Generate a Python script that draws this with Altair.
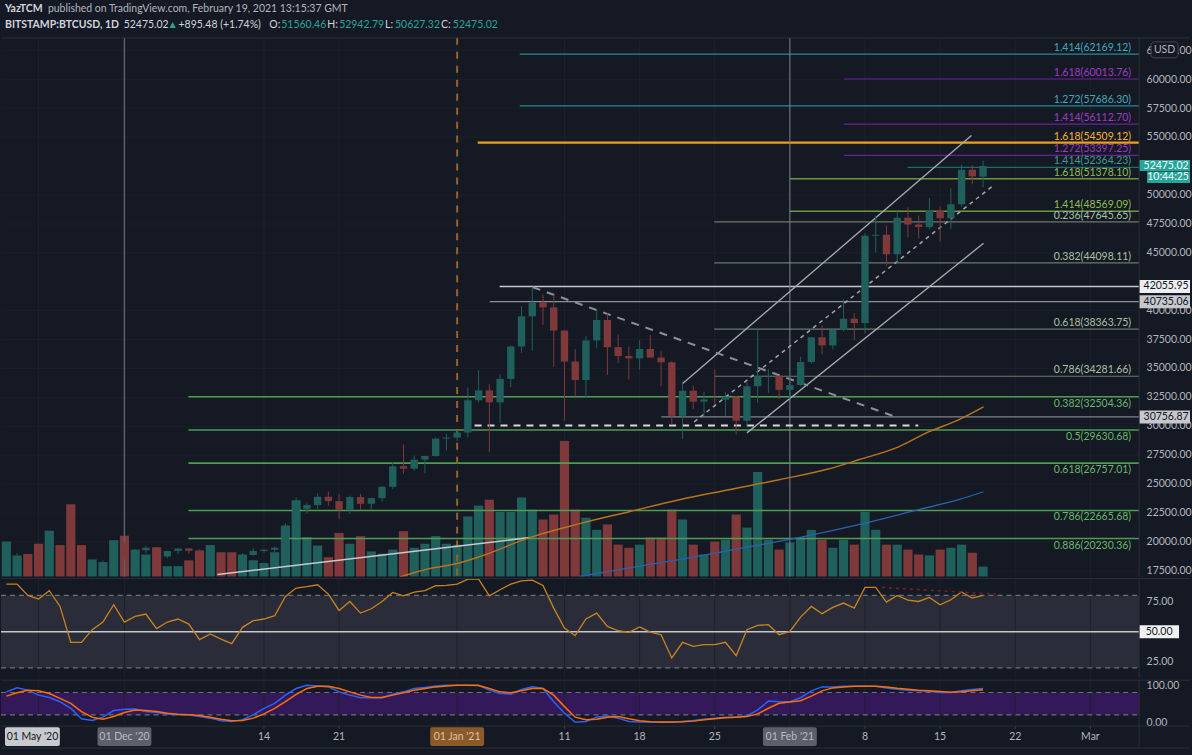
import altair as alt
import pandas as pd
import numpy as np

# ============================ DATA ============================
first_day, last_day = "2020-11-20", "2021-02-19"

opens = [
    17810, 18680, 18700, 18420, 18370, 19160, 18730, 17150, 17140, 17720, 18190,
    19700, 18780, 19220, 19440, 18680, 19150, 19360, 19170, 18320, 18550, 18250,
    18030, 18800, 19160, 19270, 19440, 21360, 22800, 23130, 23850, 23470, 22720,
    23820, 23240, 23730, 24710, 26490, 26280, 27060, 27380, 28880,
    28970, 29410, 32200, 33060, 32020, 34050, 36860, 39470, 40670, 40240, 38240,
    35550, 33950, 37380, 39150, 36800, 36030, 35830, 36640, 35900, 35490, 30850,
    33030, 32080, 32270, 32250, 32520, 30430, 33420, 34300, 34320,
    33100, 33520, 35510, 37650, 36950, 38290, 39260, 38880, 46450, 46530, 44850,
    48000, 47410, 47210, 48620, 47950, 49170, 52150, 51560.46,
]
highs = [
    18810, 18970, 18760, 18770, 19420, 19480, 18920, 17460, 17880, 18340, 19860,
    19900, 19330, 19570, 19520, 19180, 19420, 19410, 19300, 18640, 18560, 18280,
    18950, 19410, 19340, 19550, 21550, 23770, 23270, 24150, 24300, 24100, 23950,
    24100, 23770, 24780, 26860, 28380, 27410, 27400, 28990, 29300,
    29600, 33300, 34810, 33600, 34440, 36950, 40360, 41950, 41370, 41350, 38260,
    36620, 37760, 40050, 39740, 37900, 36850, 37400, 37850, 36430, 35590, 33830,
    33470, 32950, 34880, 32930, 32560, 33780, 38530, 34880, 34340,
    34700, 35980, 37660, 38720, 38320, 40950, 39740, 46650, 48170, 47330, 48630,
    48900, 48190, 49710, 49000, 50550, 52600, 52540, 52942.79,
]
lows = [
    17750, 18400, 17640, 18000, 18020, 18600, 16330, 16500, 16870, 17560, 18180,
    18330, 18340, 18930, 18580, 18520, 18880, 18920, 18220, 17650, 17920, 17580,
    18000, 18730, 19000, 19050, 19300, 21240, 22350, 22780, 23080, 21900, 22370,
    22700, 22700, 23430, 24500, 25850, 26100, 25880, 27330, 27870,
    28690, 29000, 32000, 27730, 30220, 33320, 36300, 36500, 38720, 35100, 30420,
    32530, 32450, 36700, 34400, 35400, 34000, 34850, 35890, 33420, 30070, 28850,
    31450, 30900, 31900, 30830, 29240, 29860, 31980, 32860, 32300,
    32300, 33420, 35370, 36180, 36590, 38190, 37410, 37990, 45000, 43800, 43980,
    46300, 46200, 47010, 45900, 47050, 48950, 50900, 50627.32,
]
closes = [
    18680, 18700, 18420, 18370, 19160, 18730, 17150, 17140, 17720, 18190, 19700,
    18780, 19220, 19440, 18680, 19150, 19360, 19170, 18320, 18550, 18250, 18030,
    18800, 19160, 19270, 19440, 21360, 22800, 23130, 23850, 23470, 22720, 23820,
    23240, 23730, 24710, 26490, 26280, 27060, 27380, 28880, 28970,
    29410, 32200, 33060, 32020, 34050, 36860, 39470, 40670, 40240, 38240, 35550,
    33950, 37380, 39150, 36800, 36030, 35830, 36640, 35900, 35490, 30850, 33030,
    32080, 32270, 32250, 32520, 30430, 33420, 34300, 34320, 33100,
    33520, 35510, 37650, 36950, 38290, 39260, 38880, 46450, 46530, 44850, 48000,
    47410, 47210, 48620, 47950, 49170, 52150, 51580, 52475.02,
]
volumes = [  # thousand BTC
    7.8, 4.7, 5.0, 7.3, 10.2, 7.0, 16.1, 7.0, 3.8, 3.2, 8.1,
    9.1, 6.0, 4.9, 6.5, 2.3, 2.3, 3.6, 5.8, 7.0, 5.4, 5.4, 4.9, 3.6, 3.0, 5.4,
    11.3, 17.0, 8.8, 6.9, 4.3, 9.7, 7.3, 9.0, 5.6, 5.1, 6.0, 10.1, 6.4, 7.3, 9.0, 7.3,
    7.1, 13.4, 15.8, 17.1, 14.4, 14.4, 17.6, 14.9, 12.7, 13.8, 30.2, 14.9, 13.1,
    10.4, 11.6, 7.1, 6.4, 7.1, 8.7, 8.7, 14.9, 12.7, 7.1, 4.9, 7.8, 8.2, 13.8,
    10.9, 23.3, 8.2, 6.0,
    7.6, 8.7, 10.4, 8.2, 6.4, 8.2, 7.1, 14.4, 10.4, 7.1, 7.1, 6.0, 4.9, 4.7, 6.0,
    6.4, 7.1, 5.3, 2.2,
]
rsi = [
    89.4, 89.4, 80.0, 77.0, 83.9, 70.9, 41.2, 41.2, 51.7, 58.0, 72.3,
    58.0, 62.7, 64.6, 52.5, 58.0, 60.5, 56.3, 43.4, 48.1, 43.9, 40.1, 53.6, 59.1,
    60.5, 63.2, 79.2, 86.1, 87.2, 88.8, 81.1, 67.6, 75.0, 65.4, 69.0, 75.0, 82.5,
    79.7, 82.8, 83.9, 88.0, 88.3,
    89.4, 93.5, 93.5, 79.7, 84.7, 89.4, 92.1, 92.7, 88.3, 69.5, 53.0, 46.7, 60.5,
    65.4, 54.4, 50.8, 49.4, 53.9, 49.7, 47.5, 28.3, 41.2, 37.9, 39.3, 39.3, 41.2,
    30.2, 51.7, 55.2, 55.8, 47.5,
    50.3, 62.1, 70.9, 64.9, 70.1, 73.7, 69.5, 86.6, 86.6, 74.5, 80.0, 76.1, 75.0,
    78.3, 72.3, 76.4, 82.8, 77.8, 80.0,
]
stoch_k = [
    81.7, 92.3, 86.2, 72.9, 66.7, 55.3, 37.6, 9.4, 5.0, 13.8, 31.5,
    35.0, 35.9, 28.8, 26.2, 22.6, 20.0, 20.0, 15.6, 11.2, 4.1, 2.4, 6.8, 20.0,
    37.6, 50.9, 72.9, 90.6, 99.4, 97.6, 95.0, 81.7, 72.9, 65.9, 65.9, 65.9, 75.6,
    81.7, 90.6, 93.2, 97.6, 99.4,
    99.4, 99.4, 99.4, 86.2, 77.3, 75.6, 87.9, 95.0, 90.6, 55.3, 24.4, 0.0, 2.4,
    13.8, 17.4, 11.2, 2.4, 0.6, 0.6, 0.0, 0.0, 2.4, 5.0, 8.5, 11.2, 13.8, 13.8,
    17.4, 33.2, 57.0, 55.3,
    55.3, 65.9, 84.4, 95.0, 95.0, 96.8, 96.8, 96.8, 96.8, 92.3, 88.8, 86.2, 84.4,
    83.5, 80.0, 80.0, 84.4, 87.9, 90.6,
]
stoch_d = [
    70.3, 79.1, 86.2, 84.4, 77.3, 64.1, 50.9, 28.8, 13.8, 8.5, 15.6,
    26.2, 33.2, 31.5, 28.8, 24.4, 21.8, 20.0, 18.2, 13.8, 8.5, 4.1, 5.0, 11.2,
    22.6, 37.6, 55.3, 74.7, 90.6, 96.8, 96.8, 90.6, 81.7, 72.9, 66.7, 66.7, 72.9,
    79.1, 86.2, 90.6, 95.0, 97.6,
    99.4, 99.4, 98.5, 90.6, 81.7, 79.1, 84.4, 90.6, 90.6, 72.9, 42.1, 13.8, 6.8,
    8.5, 13.8, 15.6, 9.4, 4.1, 1.5, 0.6, 0.6, 1.5, 3.2, 6.8, 9.4, 12.1, 13.8,
    15.6, 22.6, 37.6, 50.9,
    54.4, 57.9, 70.3, 84.4, 92.3, 95.0, 96.8, 96.8, 96.8, 95.0, 91.4, 88.8, 86.2,
    84.4, 82.6, 80.9, 81.7, 84.4, 87.0,
]

# moving averages
ma_orange_dates = ["2020-12-26 16:00", "2020-12-29 11:00", "2021-01-01", "2021-01-03 03:00",
                   "2021-01-07 18:00", "2021-01-12 10:00", "2021-01-17 01:00", "2021-01-21 17:00",
                   "2021-01-26 08:00", "2021-01-31", "2021-02-04 16:00", "2021-02-07 10:00",
                   "2021-02-11 03:00", "2021-02-13 22:00", "2021-02-16 17:00", "2021-02-19 01:00"]
ma_orange_values = [16903, 17637, 18068, 18673, 20313, 21522, 22558, 23594,
                    24457, 25321, 26271, 27048, 28170, 29466, 30502, 31624]
ma_blue_dates = ["2021-01-12 10:00", "2021-01-16 03:00", "2021-01-21 17:00", "2021-01-27 07:00",
                 "2021-02-01 20:00", "2021-02-07 10:00", "2021-02-13", "2021-02-16 17:00",
                 "2021-02-19 01:00"]
ma_blue_values = [16946, 17550, 18414, 19364, 20313, 21436, 22731, 23594, 24285]

# fibonacci levels
fib_sets = ["ext_teal", "ext_purple", "ext_teal", "ext_purple", "ext_orange", "ext_purple",
            "ext_darkteal", "ext_olive", "ext_olive", "retr_grey", "retr_grey", "retr_grey",
            "retr_grey", "retr_green", "retr_green", "retr_green", "retr_green", "retr_green"]
fib_ratios = ["1.414", "1.618", "1.272", "1.414", "1.618", "1.272", "1.414", "1.618", "1.414",
              "0.236", "0.382", "0.618", "0.786", "0.382", "0.5", "0.618", "0.786", "0.886"]
fib_prices = [62169.12, 60013.76, 57686.30, 56112.70, 54509.12, 53397.25, 52364.23, 51378.10,
              48569.09, 47645.65, 44098.11, 38363.75, 34281.66, 32504.36, 29630.68, 26757.01,
              22665.68, 20230.36]
fib_set_start = {"ext_teal": "2021-01-06 20:00", "ext_purple": "2021-02-06 01:00",
                 "ext_orange": "2021-01-02 22:00", "ext_darkteal": "2021-02-11 23:30",
                 "ext_olive": "2021-02-01", "retr_grey": "2021-01-24 23:00",
                 "retr_green": "2020-12-06 23:00"}

# horizontal levels with price-scale tags
level_prices = [42055.95, 40735.06, 30756.87]
level_starts = ["2021-01-04 23:00", "2021-01-04 01:00", "2021-01-20 00:30"]

# trend-line drawings (two anchor points each)
draw_names = ["channel_top", "channel_bottom", "channel_mid", "falling", "floor", "old_rise"]
draw_t0 = ["2021-01-21 23:00", "2021-01-28", "2021-01-23 02:00", "2021-01-08 01:00",
           "2021-01-02 15:00", "2020-12-09 16:00"]
draw_p0 = [33612, 29380, 30330, 41988, 30010, 17120]
draw_t1 = ["2021-02-17 22:00", "2021-02-19 01:00", "2021-02-19 23:00", "2021-02-11 03:00",
           "2021-02-12 23:00", "2021-01-07 18:00"]
draw_p1 = [55113, 45788, 50795, 30676, 30010, 20315]

rsi_div_dates = ["2021-02-09 14:00", "2021-02-20 05:00"]
rsi_div_values = [86.6, 81.1]

# price-scale labels that are not hidden behind a tag
price_ticks = [17500, 20000, 22500, 25000, 27500, 30000, 32500, 35000, 37500, 40000,
               45000, 47500, 50000, 55000, 57500, 60000, 62500]
grid_days = ["2020-11-23", "2020-12-01", "2020-12-14", "2020-12-21", "2021-01-01", "2021-01-11",
             "2021-01-18", "2021-01-25", "2021-02-01", "2021-02-08", "2021-02-15", "2021-02-22",
             "2021-03-01"]
time_ticks = ["2020-12-14", "2020-12-21", "2021-01-11", "2021-01-18", "2021-01-25",
              "2021-02-08", "2021-02-15", "2021-02-22", "2021-03-01"]
time_labels = ["14", "21", "11", "18", "25", "8", "15", "22", "Mar"]
marker_days = ["2020-12-01", "2021-01-01", "2021-02-01"]
date_tags = ["01 Dec '20", "01 Jan '21", "01 Feb '21"]

# ============================ STYLE ============================
UP, DOWN = "#26a69a", "#ef5350"
BG = "#151924"
FONT = "Lato"
TXT = "#b2b5be"
SEP = "#2a2e39"
W, H1, H2, H3 = 1141, 540, 100, 46
TOTAL_W = 1192
HEADER, FOOT = 37, 32

FIB_STYLE = {
    "ext_teal": dict(line="#2a8797", text="#3eaabb", w=1.2, above=True),
    "ext_purple": dict(line="#6b2096", text="#9b3cc6", w=1.2, above=True),
    "ext_orange": dict(line="#eaa21c", text="#f2b234", w=2.2, above=True),
    "ext_darkteal": dict(line="#1e6e68", text="#3d9e8f", w=1.2, above=True),
    "ext_olive": dict(line="#6c9a3a", text="#8fbe52", w=1.4, above=True),
    "retr_grey": dict(line="#6c7b6b", text="#a9c0a3", w=1.2, above=True),
    "retr_green": dict(line="#4f9d53", text="#67b86b", w=1.6, above=False),
}
LEVEL_STYLE = [dict(line="#c5c7cc", w=1.5, box="#eceef1"),
               dict(line="#8e9199", w=1.2, box="#c6c8cd"),
               dict(line="#80838b", w=1.2, box="#c6c8cd")]
DRAW_STYLE = {
    "channel_top": dict(color="#a9acb3", strokeWidth=1.3),
    "channel_bottom": dict(color="#a9acb3", strokeWidth=1.3),
    "channel_mid": dict(color="#a3a6ad", strokeWidth=1.5, strokeDash=[4, 4]),
    "falling": dict(color="#8d9098", strokeWidth=2, strokeDash=[8, 7]),
    "floor": dict(color="#d7d8dc", strokeWidth=2, strokeDash=[7, 6]),
    "old_rise": dict(color="#c8c9cd", strokeWidth=1.5),
}


def ms(s):
    return int(pd.Timestamp(s).value // 1_000_000)


XS = alt.Scale(type="utc", domain=[ms("2020-11-19 12:00"), ms("2021-03-05 13:00")])
PS = alt.Scale(domain=[16946, 63575], nice=False, zero=False)
VS = alt.Scale(domain=[0, 120], nice=False, zero=False)
RS = alt.Scale(domain=[11.5, 94.0], nice=False, zero=False)
SS = alt.Scale(domain=[-10.2, 112.8], nice=False, zero=False)

days = pd.date_range(first_day, last_day, freq="D")
n = len(days)
for arr in (opens, highs, lows, closes, volumes, rsi, stoch_k, stoch_d):
    assert len(arr) == n, len(arr)

candles = pd.DataFrame({"t": [ms(d) for d in days], "open": opens, "high": highs,
                        "low": lows, "close": closes, "vol": volumes, "rsi": rsi,
                        "k": stoch_k, "d": stoch_d})
candles["dir"] = np.where(candles["close"] >= candles["open"], "up", "down")

one = pd.DataFrame({"k": [0]})

AX_PRICE = alt.Axis(orient="right", values=price_ticks, format=".2f", grid=True,
                    gridColor="#1b1f2a", domain=False, ticks=False, labelPadding=7, title=None,
                    labelFont=FONT, labelFontSize=10.5, labelColor=TXT)
AX_RSI = alt.Axis(orient="right", values=[25, 50, 75], format=".2f", grid=False, domain=False,
                  ticks=False, labelPadding=7, title=None, labelFont=FONT, labelFontSize=10.5,
                  labelColor=TXT)
AX_ST = alt.Axis(orient="right", values=[0, 100], format=".2f", grid=False, domain=False,
                 ticks=False, labelPadding=7, title=None, labelFont=FONT, labelFontSize=10.5,
                 labelColor=TXT)


def X(field="t"):
    return alt.X(f"{field}:T", scale=XS, axis=None)


def YP(field):
    return alt.Y(f"{field}:Q", scale=PS, axis=AX_PRICE)


def YR(field):
    return alt.Y(f"{field}:Q", scale=RS, axis=AX_RSI)


def YS(field):
    return alt.Y(f"{field}:Q", scale=SS, axis=AX_ST)


def bg_rect(y0, y1):
    return alt.Chart(one).mark_rect(opacity=0).encode(
        x=alt.value(0), x2=alt.value(TOTAL_W), y=alt.value(y0), y2=alt.value(y1))


grid_df = pd.DataFrame({"t": [ms(d) for d in grid_days]})


def vgrid():
    return alt.Chart(grid_df).mark_rule(color="#1d212c", strokeWidth=1).encode(x=X())


def hsep(y, x2=TOTAL_W):
    return alt.Chart(one).mark_rule(color=SEP, strokeWidth=1).encode(
        x=alt.value(0), x2=alt.value(x2), y=alt.value(y))


def vsep(y0, y1):
    return alt.Chart(one).mark_rule(color=SEP, strokeWidth=1).encode(
        x=alt.value(W), y=alt.value(y0), y2=alt.value(y1))


dir_color = alt.Color("dir:N", scale=alt.Scale(domain=["up", "down"], range=[UP, DOWN]), legend=None)

# ============================ PRICE PANEL ============================
fib_df = pd.DataFrame({"set": fib_sets, "ratio": fib_ratios, "price": fib_prices})
fib_df["start"] = [ms(fib_set_start[s]) for s in fib_sets]
fib_df["label"] = [f"{r}({p:.2f})" for r, p in zip(fib_ratios, fib_prices)]

price_layers = []
for s, st in FIB_STYLE.items():
    d = fib_df[fib_df["set"] == s]
    price_layers.append(alt.Chart(d).mark_rule(color=st["line"], strokeWidth=st["w"]).encode(
        x=X("start"), x2=alt.value(W), y=YP("price")))

lvl_df = pd.DataFrame({"price": level_prices, "start": [ms(s) for s in level_starts]})
for i, st in enumerate(LEVEL_STYLE):
    price_layers.append(alt.Chart(lvl_df.iloc[[i]]).mark_rule(color=st["line"], strokeWidth=st["w"]).encode(
        x=X("start"), x2=alt.value(W), y=YP("price")))

mk = pd.DataFrame({"t": [ms(d) for d in marker_days]})
price_layers.append(alt.Chart(mk.iloc[[0]]).mark_rule(color="#5d606b", strokeWidth=1.5).encode(x=X()))
price_layers.append(alt.Chart(mk.iloc[[1]]).mark_rule(color="#9a6029", strokeWidth=2, strokeDash=[7, 7]).encode(x=X()))
price_layers.append(alt.Chart(mk.iloc[[2]]).mark_rule(color="#7d808a", strokeWidth=1).encode(x=X()))

for i, name in enumerate(draw_names):
    d = pd.DataFrame({"t": [ms(draw_t0[i]), ms(draw_t1[i])], "p": [draw_p0[i], draw_p1[i]]})
    price_layers.append(alt.Chart(d).mark_line(clip=True, **DRAW_STYLE[name]).encode(
        x=X(), y=YP("p")))

mao = pd.DataFrame({"t": [ms(s) for s in ma_orange_dates], "p": ma_orange_values})
mab = pd.DataFrame({"t": [ms(s) for s in ma_blue_dates], "p": ma_blue_values})
price_layers.append(alt.Chart(mao).mark_line(color="#b8731f", strokeWidth=1.5, clip=True,
                                             interpolate="monotone").encode(x=X(), y=YP("p")))
price_layers.append(alt.Chart(mab).mark_line(color="#2a62b0", strokeWidth=1.3, clip=True,
                                             interpolate="monotone").encode(x=X(), y=YP("p")))

# candles
price_layers.append(alt.Chart(candles).mark_rule(strokeWidth=1, clip=True).encode(
    x=X(), y=YP("low"), y2="high:Q", color=dir_color))
price_layers.append(alt.Chart(candles).mark_rect(xOffset=-3.7, x2Offset=3.7, clip=True).encode(
    x=X(), x2="t:T", y=YP("open"), y2="close:Q", color=dir_color))

# fib labels
for s, st in FIB_STYLE.items():
    d = fib_df[fib_df["set"] == s]
    price_layers.append(alt.Chart(d).mark_text(
        align="right", baseline="bottom" if st["above"] else "top", dy=-1 if st["above"] else 2,
        color=st["text"], fontSize=10.5, font=FONT).encode(
        x=alt.value(W - 8), y=YP("price"), text="label:N"))

# price scale tags
lvl_df["txt"] = [f"{p:.2f}" for p in level_prices]
for i, st in enumerate(LEVEL_STYLE):
    d = lvl_df.iloc[[i]]
    price_layers.append(alt.Chart(d).mark_rect(color=st["box"], yOffset=-6.5, y2Offset=6.5).encode(
        x=alt.value(W), x2=alt.value(TOTAL_W), y=YP("price"), y2="price:Q"))
    price_layers.append(alt.Chart(d).mark_text(color="#131722", fontSize=10.5, font=FONT, align="center",
                                               baseline="middle").encode(
        x=alt.value(W + 27), y=YP("price"), text="txt:N"))

cur = pd.DataFrame({"price": [closes[-1]], "txt": [f"{closes[-1]:.2f}"], "clock": ["10:44:25"]})
price_layers.append(alt.Chart(cur).mark_rect(color=UP, yOffset=-6, y2Offset=5).encode(
    x=alt.value(W), x2=alt.value(TOTAL_W), y=YP("price"), y2="price:Q"))
price_layers.append(alt.Chart(cur).mark_rect(color=UP, yOffset=5.5, y2Offset=17).encode(
    x=alt.value(W + 8), x2=alt.value(TOTAL_W), y=YP("price"), y2="price:Q"))
price_layers.append(alt.Chart(cur).mark_text(color="white", fontSize=10.5, font=FONT, align="center",
                                             baseline="middle", dy=-0.5).encode(
    x=alt.value(W + 27), y=YP("price"), text="txt:N"))
price_layers.append(alt.Chart(cur).mark_text(color="white", fontSize=10.5, font=FONT, align="center",
                                             baseline="middle", dy=11).encode(
    x=alt.value(W + 29), y=YP("price"), text="clock:N"))

price_group = alt.layer(*price_layers)

vol_layer = alt.Chart(candles).mark_rect(xOffset=-4.6, x2Offset=4.6).encode(
    x=X(), x2="t:T", y=alt.Y("vol:Q", scale=VS, axis=None), y2=alt.datum(0),
    color=alt.Color("dir:N", scale=alt.Scale(domain=["up", "down"], range=["#1f5f5c", "#7f393b"]), legend=None))

# header
header_segments = [
    ("YazTCM", 4, -29, "#d1d4dc", "bold"),
    ("published on TradingView.com, February 19, 2021 13:15:37 GMT", 47, -29, "#b2b5be", "normal"),
    ("BITSTAMP:BTCUSD, 1D", 4, -13, "#d1d4dc", "bold"),
    ("52475.02", 123, -13, "#d1d4dc", "normal"),
    ("\u25b2", 167, -13, UP, "normal"),
    ("+895.48 (+1.74%)", 178, -13, "#d1d4dc", "normal"),
    ("O:", 269, -13, "#d1d4dc", "normal"),
    ("51560.46", 281, -13, UP, "normal"),
    ("H:", 327, -13, "#d1d4dc", "normal"),
    ("52942.79", 339, -13, UP, "normal"),
    ("L:", 385, -13, "#d1d4dc", "normal"),
    ("50627.32", 395, -13, UP, "normal"),
    ("C:", 441, -13, "#d1d4dc", "normal"),
    ("52475.02", 453, -13, UP, "normal"),
]
header_layers = []
for txt, hx, hy, col, wt in header_segments:
    header_layers.append(alt.Chart(one).mark_text(text=txt, align="left", baseline="middle", color=col,
                                                  fontWeight=wt, fontSize=10.5, font=FONT).encode(
        x=alt.value(hx), y=alt.value(hy)))

usd_box = alt.Chart(one).mark_rect(fill=BG, stroke="#434651", strokeWidth=1, cornerRadius=3).encode(
    x=alt.value(W + 12), x2=alt.value(W + 39), y=alt.value(4), y2=alt.value(20))
usd_txt = alt.Chart(one).mark_text(text="USD", color=TXT, fontSize=10.5, font=FONT, align="center",
                                   baseline="middle").encode(x=alt.value(W + 25.5), y=alt.value(12))

price_panel = alt.layer(
    bg_rect(-HEADER, H1), vgrid(), vol_layer, price_group, *header_layers, usd_box, usd_txt,
    hsep(0), vsep(0, H1)
).resolve_scale(y="independent").properties(width=W, height=H1)

# ============================ RSI PANEL ============================
band_df = pd.DataFrame({"hi": [80], "lo": [20]})
lv_df = pd.DataFrame({"lvl": [80, 20]})
mid_df = pd.DataFrame({"lvl": [50], "txt": ["50.00"]})
div_df = pd.DataFrame({"t": [ms(s) for s in rsi_div_dates], "v": rsi_div_values})

rsi_panel = alt.layer(
    bg_rect(0, H2),
    alt.Chart(band_df).mark_rect(color="#2a2d39").encode(
        x=alt.value(0), x2=alt.value(W), y=YR("hi"), y2="lo:Q"),
    vgrid(),
    alt.Chart(lv_df).mark_rule(color="#6d7079", strokeDash=[5, 4], strokeWidth=1.3).encode(
        x=alt.value(0), x2=alt.value(W), y=YR("lvl")),
    alt.Chart(mid_df).mark_rule(color="#c5c7cc", strokeWidth=1.6).encode(
        x=alt.value(0), x2=alt.value(W), y=YR("lvl")),
    alt.Chart(candles).mark_line(color="#c8841e", strokeWidth=1.3, clip=True).encode(
        x=X(), y=YR("rsi")),
    alt.Chart(div_df).mark_line(color="#7a1f25", strokeWidth=1.5, strokeDash=[3, 4]).encode(
        x=X(), y=YR("v")),
    alt.Chart(mid_df).mark_rect(color="#f0f1f3", yOffset=-6.5, y2Offset=6.5).encode(
        x=alt.value(W), x2=alt.value(W + 40), y=YR("lvl"), y2="lvl:Q"),
    alt.Chart(mid_df).mark_text(color="#131722", fontSize=10.5, font=FONT, align="center",
                                baseline="middle").encode(
        x=alt.value(W + 20), y=YR("lvl"), text="txt:N"),
    hsep(0), vsep(0, H2),
).properties(width=W, height=H2)

# ============================ STOCH RSI PANEL ============================
tick_df = pd.DataFrame({"t": [ms(d) for d in time_ticks], "lab": time_labels})
tag_df = pd.DataFrame({"t": [ms(d) for d in marker_days], "txt": date_tags})
tag_styles = [("#5d606b", "#b7bac2"), ("#8a5a2b", "#e0c29c"), ("#5d606b", "#b7bac2")]
tag_layers = []
for i, (bgc, fgc) in enumerate(tag_styles):
    d = tag_df.iloc[[i]]
    tag_layers.append(alt.Chart(d).mark_rect(color=bgc, xOffset=-27, x2Offset=27, cornerRadius=2).encode(
        x=X(), x2="t:T", y=alt.value(H3 + 1), y2=alt.value(H3 + 20)))
    tag_layers.append(alt.Chart(d).mark_text(color=fgc, fontSize=10.5, font=FONT, align="center",
                                             baseline="middle").encode(
        x=X(), y=alt.value(H3 + 10.5), text="txt:N"))
may_box = alt.Chart(one).mark_rect(color="#c8cad0", cornerRadius=2).encode(
    x=alt.value(4), x2=alt.value(59), y=alt.value(H3 + 1), y2=alt.value(H3 + 20))
may_txt = alt.Chart(one).mark_text(text="01 May '20", color="#131722", fontSize=10.5, font=FONT,
                                   align="center", baseline="middle").encode(
    x=alt.value(31.5), y=alt.value(H3 + 10.5))
tick_marks = alt.Chart(tick_df).mark_rule(color="#3a3e4a", strokeWidth=1).encode(
    x=X(), y=alt.value(H3), y2=alt.value(H3 + 3))
tick_text = alt.Chart(tick_df).mark_text(color=TXT, fontSize=10.5, font=FONT, align="center",
                                         baseline="middle").encode(
    x=X(), y=alt.value(H3 + 11), text="lab:N")

stoch_panel = alt.layer(
    bg_rect(0, H3 + FOOT),
    alt.Chart(band_df).mark_rect(color="#33195a").encode(
        x=alt.value(0), x2=alt.value(W), y=YS("hi"), y2="lo:Q"),
    vgrid(),
    alt.Chart(lv_df).mark_rule(color="#6d7079", strokeDash=[5, 4], strokeWidth=1.2).encode(
        x=alt.value(0), x2=alt.value(W), y=YS("lvl")),
    alt.Chart(candles).mark_line(color="#2962ff", strokeWidth=1.5, clip=True).encode(
        x=X(), y=YS("k")),
    alt.Chart(candles).mark_line(color="#ff6d00", strokeWidth=1.5, clip=True).encode(
        x=X(), y=YS("d")),
    tick_marks, tick_text,
    *tag_layers, may_box, may_txt,
    hsep(0), hsep(H3), vsep(0, H3 + 22), hsep(H3 + 22),
).properties(width=W, height=H3)

chart = alt.vconcat(price_panel, rsi_panel, stoch_panel, spacing=0).properties(
    padding=0, background=BG
).configure_view(stroke=None).configure_text(font=FONT)

chart.save("out.html", embed_options={"renderer": "svg", "actions": False})
